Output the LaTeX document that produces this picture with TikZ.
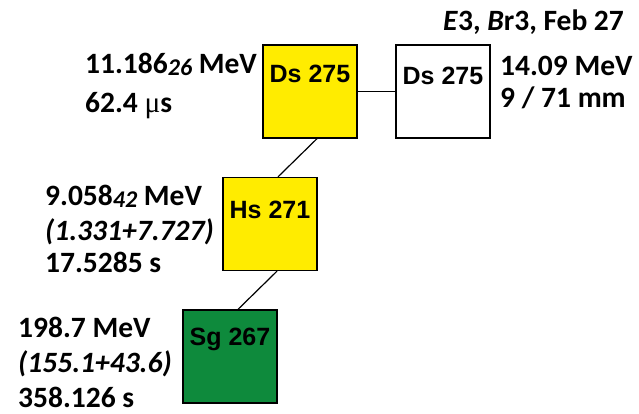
\documentclass[tikz,border=0pt]{standalone}
\usepackage{fontspec}
\setmainfont{Carlito}[BoldFont={Carlito Bold},BoldItalicFont={Carlito Bold Italic}]
\newfontfamily\boxfont{Liberation Sans}
\newfontfamily\mufont{Liberation Serif}
\definecolor{dsyellow}{RGB}{255,236,0}
\definecolor{sggreen}{RGB}{14,138,60}
\newcommand{\lowit}[1]{\raisebox{-2.5pt}{\fontsize{24}{24}\selectfont\itshape #1}}
\begin{document}
\begin{tikzpicture}[x=1pt,y=-1pt,
  nucbox/.style={draw=black, line width=1.3pt, minimum width=94pt, minimum height=93pt, inner sep=0pt},
  nuclabel/.style={inner sep=0pt, font=\boxfont\bfseries\fontsize{25}{25}\selectfont},
  info/.style={inner sep=0pt, anchor=base west, font=\bfseries\fontsize{29.5}{29.5}\selectfont},
  conn/.style={line width=1.2pt}]
\useasboundingbox (0,0) rectangle (639,413);
% boxes
\node[nucbox, fill=dsyellow] (ds) at (310,91.5) {};
\node[nucbox, fill=white] (dsw) at (443,91.5) {};
\node[nucbox, fill=dsyellow] (hs) at (270,224) {};
\node[nucbox, fill=sggreen] (sg) at (230,356.5) {};
\node[nuclabel] (dsl) at ([yshift=-30pt]ds.north) {Ds 275};
\node[nuclabel] (dswl) at ([yshift=-32pt]dsw.north) {Ds 275};
\node[nuclabel] (hsl) at ([yshift=-33pt]hs.north) {Hs 271};
\node[nuclabel] (sgl) at ([yshift=-30pt]sg.north) {Sg 267};
% connectors
\draw[conn] (ds.east) -- (dsw.west);
\draw[conn] ([xshift=7pt]ds.south) -- ([xshift=8pt]hs.north);
\draw[conn] ([xshift=7pt]hs.south) -- ([xshift=8pt]sg.north);
% texts
\node[info] (t1) at (85,73) {11.186\lowit{26} MeV};
\node[info] (t2) at (85,112) {62.4 {\mufont\mdseries μ}s};
\node[info] (t3) at (443,30) {\textit{E}3, \textit{B}r3, Feb 27};
\node[info] (t4) at (500,75) {14.09 MeV};
\node[info] (t5) at (500,107) {9 / 71 mm};
\node[info] (t6) at (45,205) {9.058\lowit{42} MeV};
\node[info] (t7) at (45,240) {\itshape (1.331+7.727)};
\node[info] (t8) at (45,272) {17.5285 s};
\node[info] (t9) at (18,337) {198.7 MeV};
\node[info] (t10) at (18,372) {\itshape (155.1+43.6)};
\node[info] (t11) at (18,407) {358.126 s};
\end{tikzpicture}
\end{document}
